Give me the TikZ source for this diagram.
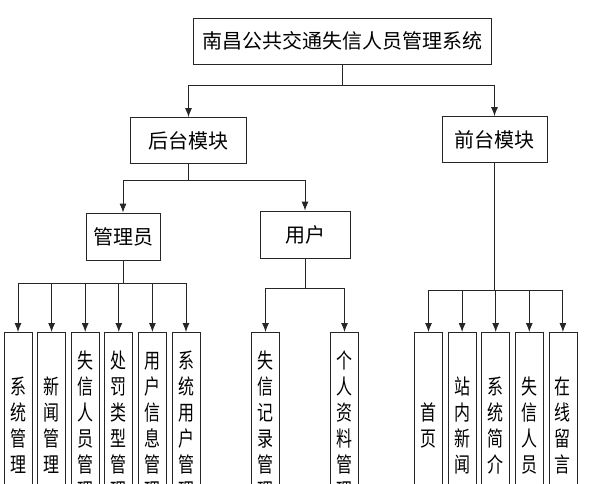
\documentclass[tikz,border=0pt]{standalone}
\usepackage{fontspec}
\newfontfamily\cjk{Noto Sans CJK SC}
\newfontfamily\cjknarrow[FakeStretch=0.76]{Noto Sans CJK SC}
\usetikzlibrary{arrows.meta,positioning}
\tikzset{>={Latex[length=9pt,width=7pt]},node distance=4.8pt}
\tikzset{
    module/.style={draw=black!85,line width=0.8pt,minimum height=46pt,inner sep=0pt,
        font=\cjk\fontsize{20}{24}\selectfont},
    leaf/.style={draw=black!85,line width=0.8pt,minimum width=28pt,minimum height=186pt,
        inner sep=0pt,anchor=north,align=center,font=\cjknarrow\fontsize{21}{26}\selectfont},
    link/.style={->,draw=black!85,line width=0.9pt}
}

\begin{document}
\begin{tikzpicture}[x=1pt,y=-1pt]
            \useasboundingbox (0,0) rectangle (589,483);
            \clip (0,0) rectangle (589,483);

            \node[module,minimum width=298pt] (sys) at (342,41) {南昌公共交通失信人员管理系统};
            \node[module,minimum width=116pt] (back) at (188.5,140.5) {后台模块};
            \node[module,minimum width=105pt] (front) at (494.5,139.5) {前台模块};
            \node[module,minimum width=74pt,minimum height=47pt] (admin) at (123,236.5) {管理员};
            \node[module,minimum width=90pt,minimum height=47pt] (user) at (305,234.5) {用户};

            % admin
            \node[leaf] (a1) at (18,332) {系\\统\\管\\理};
            \node[leaf] (a2) [right=of a1] {新\\闻\\管\\理};
            \node[leaf] (a3) [right=of a2] {失\\信\\人\\员\\管\\理};
            \node[leaf] (a4) [right=of a3] {处\\罚\\类\\型\\管\\理};
            \node[leaf] (a5) [right=of a4] {用\\户\\信\\息\\管\\理};
            \node[leaf] (a6) [right=of a5] {系\\统\\用\\户\\管\\理};

            % user
            \node[leaf] (u1) at (265.5,332) {失\\信\\记\\录\\管\\理};
            \node[leaf] (u2) [right=50.2pt of u1] {个\\人\\资\\料\\管\\理};

            % front
            \node[leaf] (f1) at (428.5,332) {首\\页};
            \node[leaf] (f2) [right=of f1] {站\\内\\新\\闻};
            \node[leaf] (f3) [right=of f2] {系\\统\\简\\介};
            \node[leaf] (f4) [right=of f3] {失\\信\\人\\员};
            \node[leaf] (f5) [right=of f4] {在\\线\\留\\言};

            \draw[link] (sys.south) -- ++(0,21) -| (back);
            \draw[link] (sys.south) -- ++(0,21) -| (front);
            \draw[link] (back.south) -- ++(0,16.5) -| (admin);
            \draw[link] (back.south) -- ++(0,16.5) -| (user);
            \foreach \n in {a1,a2,a3,a4,a5,a6}
                \draw[link] (admin.south) -- ++(0,23) -| (\n);
            \foreach \n in {u1,u2}
                \draw[link] (user.south) -- ++(0,30) -| (\n);
            \foreach \n in {f1,f2,f3,f4,f5}
                \draw[link] (front.south) -- ++(0,127.5) -| (\n);
\end{tikzpicture}
\end{document}
